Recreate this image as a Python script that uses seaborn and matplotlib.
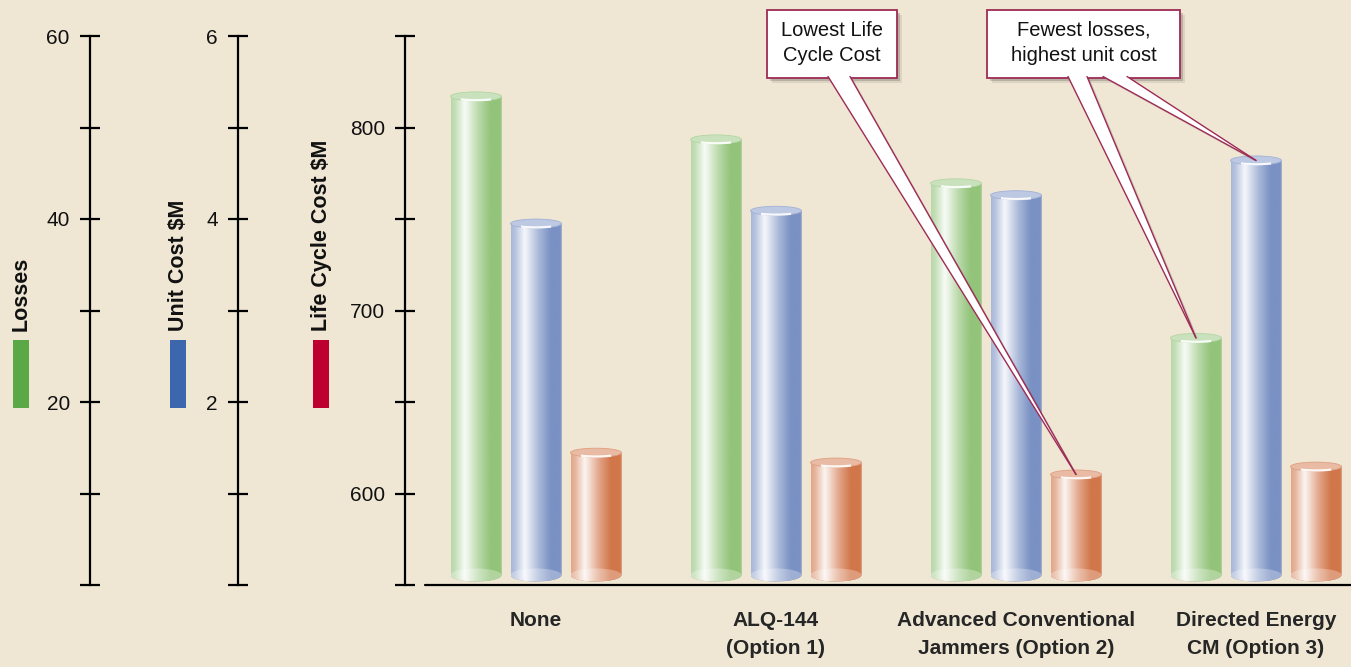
import numpy as np
import pandas as pd
import matplotlib
matplotlib.use("Agg")
import matplotlib.pyplot as plt
import seaborn as sns
from matplotlib.colors import LinearSegmentedColormap, to_rgb
from matplotlib.patches import Ellipse, Rectangle, Polygon, PathPatch, Arc
from matplotlib.lines import Line2D
from matplotlib.path import Path
from matplotlib.ticker import FixedLocator, NullFormatter

# ---- data -------------------------------------------------------------
categories = ["None", "ALQ-144\n(Option 1)",
              "Advanced Conventional\nJammers (Option 2)",
              "Directed Energy\nCM (Option 3)"]
losses = [53.4, 48.7, 43.9, 27.0]
unit_cost = [3.95, 4.09, 4.26, 4.64]
life_cycle_cost = [622.3, 616.9, 610.4, 614.7]

series_names = ["Losses", "Unit Cost $M", "Life Cycle Cost $M"]

# axis scales for each measure
losses_lim = (0, 60)
unit_lim = (0, 6)
lcc_lim = (550, 850)
losses_major, losses_minor = [20, 40, 60], [0, 10, 30, 50]
unit_major, unit_minor = [2, 4, 6], [0, 1, 3, 5]
lcc_major, lcc_minor = [600, 700, 800], [550, 650, 750, 850]

note_low = "Lowest Life\nCycle Cost"
note_few = "Fewest losses,\nhighest unit cost"

# ---- styling ----------------------------------------------------------
BG = "#efe7d4"
bar_colors = ["#93c47a", "#7a91c4", "#d2764b"]
key_colors = ["#5aa846", "#3d67ad", "#bd0030"]
note_edge = "#9e2b55"

sns.set_theme(style="white")
plt.rcParams["font.family"] = ["Liberation Sans", "DejaVu Sans"]
plt.rcParams["axes.facecolor"] = BG
plt.rcParams["figure.facecolor"] = BG

W, H = 1351, 667
fig = plt.figure(figsize=(W / 100, H / 100), dpi=100)


def fx(px):
    return px / W


def fy(py):
    return 1 - py / H


ax_bottom = fy(585)
ax_height = fy(36) - ax_bottom

# ---- bars on a shared 0..1 height scale -------------------------------
def to_frac(vals, lim):
    lo, hi = lim
    return [(v - lo) / (hi - lo) for v in vals]


df = pd.DataFrame({
    "category": categories * 3,
    "series": np.repeat(series_names, len(categories)),
    "height": to_frac(losses, losses_lim) + to_frac(unit_cost, unit_lim)
    + to_frac(life_cycle_cost, lcc_lim),
})

ax = fig.add_axes([fx(405), ax_bottom, fx(1351 - 405), ax_height])
sns.barplot(data=df, x="category", y="height", hue="series",
            order=categories, hue_order=series_names,
            palette=bar_colors, width=0.75, gap=0.15,
            legend=False, ax=ax, zorder=2, linewidth=0)


def mix(c, amt):
    r = np.array(to_rgb(c))
    return tuple(r + (1 - r) * amt)


def cyl_cmap(c):
    return LinearSegmentedColormap.from_list(
        "cyl", [(0.0, mix(c, 0.35)), (0.08, mix(c, 0.45)), (0.27, mix(c, 0.93)),
                (0.55, mix(c, 0.35)), (0.78, c), (0.96, c), (1.0, mix(c, 0.15))])


px_per_unit = 549.0
top_r = 4.5 / px_per_unit      # half-height of top ellipse
base_r = 6.5 / px_per_unit     # half-height of bottom ellipse
base_y = 10.0 / px_per_unit    # lift of cylinder base above floor line

grad = np.linspace(0, 1, 256).reshape(1, -1)
bars = list(ax.patches)
for p in bars:
    x0, w, h = p.get_x(), p.get_width(), p.get_height()
    xc = x0 + w / 2
    cat = int(round(xc))
    s_idx = int(round((xc - cat) / 0.25)) + 1
    col = bar_colors[s_idx]

    t = np.linspace(np.pi, 2 * np.pi, 48)
    verts = [(x0, h)] + list(zip(xc + (w / 2) * np.cos(t), base_y + base_r * np.sin(t))) \
        + [(x0 + w, h), (x0, h)]
    codes = [Path.MOVETO] + [Path.LINETO] * (len(verts) - 2) + [Path.CLOSEPOLY]
    clip = PathPatch(Path(verts, codes), transform=ax.transData)

    p.set_clip_path(clip)
    im = ax.imshow(grad, extent=(x0, x0 + w, base_y - base_r, h), aspect="auto",
                   cmap=cyl_cmap(col), interpolation="bicubic", zorder=2.5)
    im.set_clip_path(clip)

    # glassy base
    ax.add_patch(Ellipse((xc, base_y), w, 2 * base_r, facecolor="white",
                         alpha=0.28, edgecolor="none", zorder=2.6))
    # top cap
    ax.add_patch(Ellipse((xc, h), w, 2 * top_r, facecolor=mix(col, 0.5),
                         edgecolor=mix(col, 0.3), linewidth=0.6, zorder=3))
    ax.add_patch(Arc((xc, h), w * 0.96, 2 * top_r * 0.85, theta1=185, theta2=355,
                     color="white", linewidth=1.6, alpha=0.9, zorder=3.1))

xlim = (-131 / 240, 3 + 95 / 240)
ax.set_xlim(*xlim)
ax.set_ylim(0, 1)
for s in ax.spines.values():
    s.set_visible(False)
ax.axhline(0, xmin=20 / 946, xmax=1, color="black", linewidth=1.6, zorder=5,
           clip_on=False)
ax.set_yticks([])
ax.set_xlabel("")
ax.set_ylabel("")
ax.tick_params(axis="x", length=0, pad=19, labelsize=15)
for lab in ax.get_xticklabels():
    lab.set_fontweight("bold")
    lab.set_linespacing(1.55)

# ---- three value scales ------------------------------------------------
scales = [
    (90, losses_lim, losses_major, losses_minor),
    (238, unit_lim, unit_major, unit_minor),
    (405, lcc_lim, lcc_major, lcc_minor),
]
for xpix, lim, major, minor in scales:
    sax = fig.add_axes([fx(xpix), ax_bottom, 0.0005, ax_height])
    sax.patch.set_visible(False)
    for name, s in sax.spines.items():
        s.set_visible(name == "left")
    sax.spines["left"].set_linewidth(1.6)
    sax.spines["left"].set_color("black")
    sax.set_ylim(*lim)
    sax.set_xticks([])
    sax.yaxis.set_major_locator(FixedLocator(major))
    sax.yaxis.set_minor_locator(FixedLocator(minor))
    sax.yaxis.set_minor_formatter(NullFormatter())
    sax.tick_params(axis="y", which="both", direction="inout", length=15,
                    width=1.6, color="black", pad=7, labelsize=15,
                    labelcolor="#111111", left=True)

# ---- series key: rotated names with colour swatches --------------------
key_x = [21, 178, 321]
for name, xc, kc in zip(series_names, key_x, key_colors):
    fig.text(fx(xc), fy(331), name.replace("$", r"\$"), rotation=90,
             ha="center", va="bottom", fontsize=15.5, fontweight="bold",
             color="#111111")
    fig.add_artist(Rectangle((fx(xc - 8), fy(408)), fx(16), (408 - 340) / H,
                             transform=fig.transFigure, facecolor=kc,
                             edgecolor="none"))

# ---- callouts ----------------------------------------------------------
inv = fig.transFigure.inverted()


def bar_top(cat_idx, s_idx, value_frac):
    x = cat_idx + (s_idx - 1) * 0.25
    return inv.transform(ax.transData.transform((x, value_frac)))


def callout(box, text, pointers):
    x0, y0, x1, y1 = box
    for dx, a in [(3, 0.16), (5, 0.08)]:
        fig.add_artist(Rectangle((fx(x0 + dx), fy(y1 + dx)), fx(x1 - x0), (y1 - y0) / H,
                                 transform=fig.transFigure, facecolor="black",
                                 edgecolor="none", alpha=a, zorder=10))
    fig.add_artist(Rectangle((fx(x0), fy(y1)), fx(x1 - x0), (y1 - y0) / H,
                             transform=fig.transFigure, facecolor="white",
                             edgecolor=note_edge, linewidth=1.3, zorder=11))
    for (bl, br), tip in pointers:
        base_l = (fx(bl), fy(y1 - 1.5))
        base_r = (fx(br), fy(y1 - 1.5))
        sh = (3 / W, -3 / H)
        fig.add_artist(Polygon([(base_l[0] + sh[0], base_l[1] + sh[1]),
                                (base_r[0] + sh[0], base_r[1] + sh[1]),
                                (tip[0] + sh[0], tip[1] + sh[1])],
                               closed=True, transform=fig.transFigure,
                               facecolor="black", alpha=0.14, edgecolor="none",
                               zorder=10))
        fig.add_artist(Polygon([base_l, base_r, tip], closed=True,
                               transform=fig.transFigure, facecolor="white",
                               edgecolor="none", zorder=12))
        for b in (base_l, base_r):
            fig.add_artist(Line2D([b[0], tip[0]], [b[1], tip[1]],
                                  transform=fig.transFigure, color=note_edge,
                                  linewidth=1.0, zorder=12.5))
    fig.text(fx((x0 + x1) / 2), fy((y0 + y1) / 2 - 1), text, ha="center",
             va="center", fontsize=14.5, color="#111111", linespacing=1.45,
             zorder=13)


lcc_frac = to_frac(life_cycle_cost, lcc_lim)
loss_frac = to_frac(losses, losses_lim)
unit_frac = to_frac(unit_cost, unit_lim)

callout((767, 10, 897, 78), note_low,
        [((828, 850), bar_top(2, 2, lcc_frac[2]))])
callout((987, 10, 1180, 78), note_few,
        [((1068, 1087), bar_top(3, 0, loss_frac[3])),
         ((1103, 1127), bar_top(3, 1, unit_frac[3]))])

fig.savefig("out.png", dpi=100, facecolor=BG)
